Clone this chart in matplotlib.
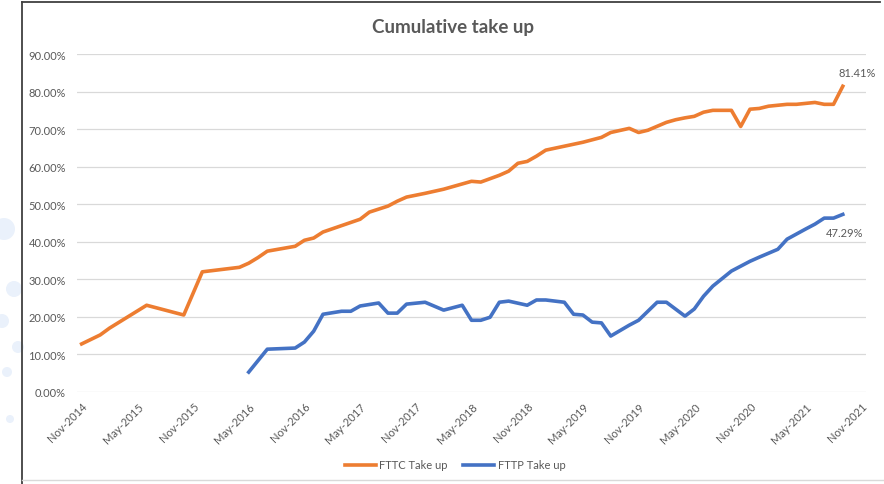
import numpy as np
import pandas as pd
import matplotlib
matplotlib.use('Agg')
import matplotlib.pyplot as plt
from matplotlib.patches import Circle
from matplotlib.lines import Line2D

plt.rcParams['font.family'] = ['Lato', 'DejaVu Sans']

# FTTC take up (%), by month
fttc_dates = ['2014-11', '2015-01', '2015-02', '2015-06', '2015-10', '2015-12', '2016-04', '2016-05',
              '2016-06', '2016-07', '2016-10', '2016-11', '2016-12', '2017-01', '2017-05', '2017-06',
              '2017-08', '2017-09', '2017-10', '2017-12', '2018-02', '2018-05', '2018-06', '2018-08',
              '2018-09', '2018-10', '2018-11', '2018-12', '2019-01', '2019-05', '2019-07', '2019-08',
              '2019-10', '2019-11', '2019-12', '2020-02', '2020-03', '2020-04', '2020-05', '2020-06',
              '2020-07', '2020-09', '2020-10', '2020-11', '2020-12', '2021-01', '2021-03', '2021-04',
              '2021-06', '2021-07', '2021-08', '2021-09']
fttc_takeup = [12.8, 15.2, 17.0, 23.1, 20.5, 32.0, 33.2, 34.3, 35.8, 37.5,
               38.8, 40.4, 41.0, 42.6, 46.0, 47.9, 49.5, 50.8, 51.9, 52.9,
               54.0, 56.1, 55.9, 57.7, 58.8, 60.9, 61.4, 62.8, 64.4, 66.5,
               67.8, 69.1, 70.2, 69.1, 69.7, 71.8, 72.5, 73.0, 73.4, 74.5,
               75.0, 75.0, 70.7, 75.3, 75.5, 76.1, 76.6, 76.6, 77.1, 76.6,
               76.6, 81.41]

# FTTP take up (%), by month
fttp_dates = ['2016-05', '2016-07', '2016-10', '2016-11', '2016-12', '2017-01', '2017-03', '2017-04',
              '2017-05', '2017-07', '2017-08', '2017-09', '2017-10', '2017-12', '2018-02', '2018-04',
              '2018-05', '2018-06', '2018-07', '2018-08', '2018-09', '2018-11', '2018-12', '2019-01',
              '2019-03', '2019-04', '2019-05', '2019-06', '2019-07', '2019-08', '2019-10', '2019-11',
              '2020-01', '2020-02', '2020-04', '2020-05', '2020-06', '2020-07', '2020-09', '2020-10',
              '2020-11', '2020-12', '2021-02', '2021-03', '2021-05', '2021-06', '2021-07', '2021-08',
              '2021-09']
fttp_takeup = [5.3, 11.4, 11.7, 13.3, 16.2, 20.7, 21.5, 21.5, 22.9, 23.7,
               21.0, 21.0, 23.4, 23.9, 21.8, 23.1, 19.1, 19.1, 19.9, 23.9,
               24.2, 23.1, 24.5, 24.5, 23.9, 20.7, 20.5, 18.6, 18.4, 14.9,
               17.8, 19.1, 23.9, 23.9, 20.2, 22.1, 25.5, 28.2, 32.2, 33.5,
               34.8, 35.9, 38.0, 40.7, 43.4, 44.7, 46.3, 46.3, 47.29]

start = pd.Period('2014-11', freq='M')


def month_index(dates):
    return np.array([(pd.Period(d, freq='M') - start).n for d in dates])


tick_periods = [start + 6 * i for i in range(15)]
tick_labels = [p.strftime('%b-%Y') for p in tick_periods]

orange = '#ED7D31'
blue = '#4472C4'
grey = '#595959'

fig = plt.figure(figsize=(8.84, 4.85), dpi=100)
W, H = 884, 485

# faint background circles on the left edge
for cx, cy, r in [(4, 230, 11), (14, 290, 8), (2, 322, 7), (18, 348, 6), (7, 373, 5), (10, 420, 4)]:
    fig.add_artist(Circle((cx / 100, (H - cy) / 100), r / 100, transform=fig.dpi_scale_trans,
                          color='#eaf1fb', lw=0))

# chart frame
fig.add_artist(Line2D([22 / W, 22 / W], [0, 1 - 3 / H], transform=fig.transFigure, color='#404040', lw=1.3))
fig.add_artist(Line2D([22 / W, 880 / W], [1 - 3 / H, 1 - 3 / H], transform=fig.transFigure, color='#404040', lw=1.3))
fig.add_artist(Line2D([22 / W, 1], [1 - 481 / H, 1 - 481 / H], transform=fig.transFigure, color='#d9d9d9', lw=1))

ax = fig.add_axes([77 / W, 1 - 393 / H, (866 - 77) / W, (393 - 55) / H])

fttc_x = month_index(fttc_dates)
fttp_x = month_index(fttp_dates)
ax.plot(fttc_x, fttc_takeup, color=orange, lw=2.6, solid_joinstyle='round', label='FTTC Take up')
ax.plot(fttp_x, fttp_takeup, color=blue, lw=2.6, solid_joinstyle='round', label='FTTP Take up')

ax.set_xlim(-0.5, 84.5)
ax.set_ylim(0, 90)
ax.set_yticks(np.arange(0, 91, 10))
ax.set_yticklabels([f'{v:.2f}%' for v in np.arange(0, 91, 10)])
ax.set_xticks([6 * i for i in range(15)])
ax.set_xticklabels(tick_labels, rotation=45, ha='right', va='top', rotation_mode='anchor')
ax.grid(axis='y', color='#d9d9d9', lw=0.9)
ax.set_axisbelow(True)
for s in ax.spines.values():
    s.set_visible(False)
ax.tick_params(axis='both', length=0, labelsize=8, labelcolor=grey)
ax.tick_params(axis='y', pad=8)
ax.tick_params(axis='x', pad=6)

ax.annotate(f'{fttc_takeup[-1]:.2f}%', xy=(fttc_x[-1], fttc_takeup[-1]), xytext=(14, 14),
            textcoords='offset pixels', ha='center', va='center', fontsize=8, color=grey)
ax.annotate(f'{fttp_takeup[-1]:.2f}%', xy=(fttp_x[-1], fttp_takeup[-1]), xytext=(2, -18),
            textcoords='offset pixels', ha='center', va='center', fontsize=8, color=grey)

fig.text(453 / W, 1 - 27 / H, 'Cumulative take up', ha='center', va='center',
         fontsize=13.5, fontweight='bold', color=grey)

leg = fig.legend(loc='center', bbox_to_anchor=(455 / W, 1 - 466 / H), ncol=2, frameon=False,
                 fontsize=8, handlelength=2.8, columnspacing=1.4, handletextpad=0.3)
for t in leg.get_texts():
    t.set_color(grey)

fig.savefig('out.png', dpi=100)
